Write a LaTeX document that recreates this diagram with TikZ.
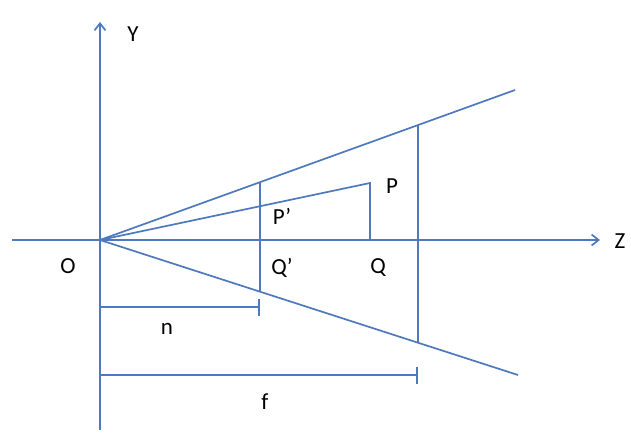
\documentclass[tikz,border=0pt]{standalone}
\usepackage{fontspec}
\setmainfont{Carlito}
\usepackage{xcolor}
\usetikzlibrary{arrows.meta,positioning}
\definecolor{axisblue}{RGB}{79,121,189}
\tikzset{
	>={Straight Barb[length=7pt,width=11pt]},
	lbl/.style={font=\fontsize{23}{26}\selectfont, inner sep=1pt},
}
\begin{document}
\begin{tikzpicture}
	[x=1pt, y=-1pt,
		% STYLES
		% the axes and the frustum lines
		ln/.style={draw=axisblue, line width=1.7pt},
		% the dimension lines for n and f
		dim/.style={draw=axisblue, line width=1.7pt, -{Bar[width=17pt]}}]
	\useasboundingbox (0,0) rectangle (631,440);
	\fill[white] (0,0) rectangle (631,440);

	% Points
	\coordinate (o) at (100,240);
	\coordinate (yb) at (100,430);
	\coordinate (yt) at (100,22);
	\coordinate (zl) at (12,240);
	\coordinate (zr) at (600,240);
	\coordinate (up) at (515,90);
	\coordinate (lo) at (518,375);
	\coordinate (nt) at (260,182);
	\coordinate (nb) at (260,291);
	\coordinate (ft) at (418,125);
	\coordinate (fb) at (418,343);
	\coordinate (p) at (370,183);
	\coordinate (q) at (370,240);
	\coordinate (ns) at (100,307);
	\coordinate (ne) at (260,307);
	\coordinate (fs) at (100,375);
	\coordinate (fe) at (418,375);

	% Axes
	\draw[ln, ->] (yb) -- (yt);
	\draw[ln, ->] (zl) -- (zr);
	\node[lbl] (ylbl) at (133,34) {Y};
	\node[lbl] (zlbl) at (620,241) {Z};
	\node[lbl] (olbl) at (68,266) {O};

	% Frustum
	\draw[ln] (o) -- (up);
	\draw[ln] (o) -- (lo);
	\draw[ln] (nt) -- (nb);
	\draw[ln] (ft) -- (fb);
	\draw[ln] (o) -- (p) -- (q);

	\node[lbl] (plbl) at (392,186) {P};
	\node[lbl] (pplbl) at (282,216) {P’};
	\node[lbl] (qplbl) at (282,268) {Q’};
	\node[lbl] (qlbl) at (378,268) {Q};

	% Distances
	\draw[dim] (ns) -- (ne);
	\draw[dim] (fs) -- (fe);
	\node[lbl] (nlbl) at (167,329) {n};
	\node[lbl] (flbl) at (265,402) {f};

\end{tikzpicture}
\end{document}
